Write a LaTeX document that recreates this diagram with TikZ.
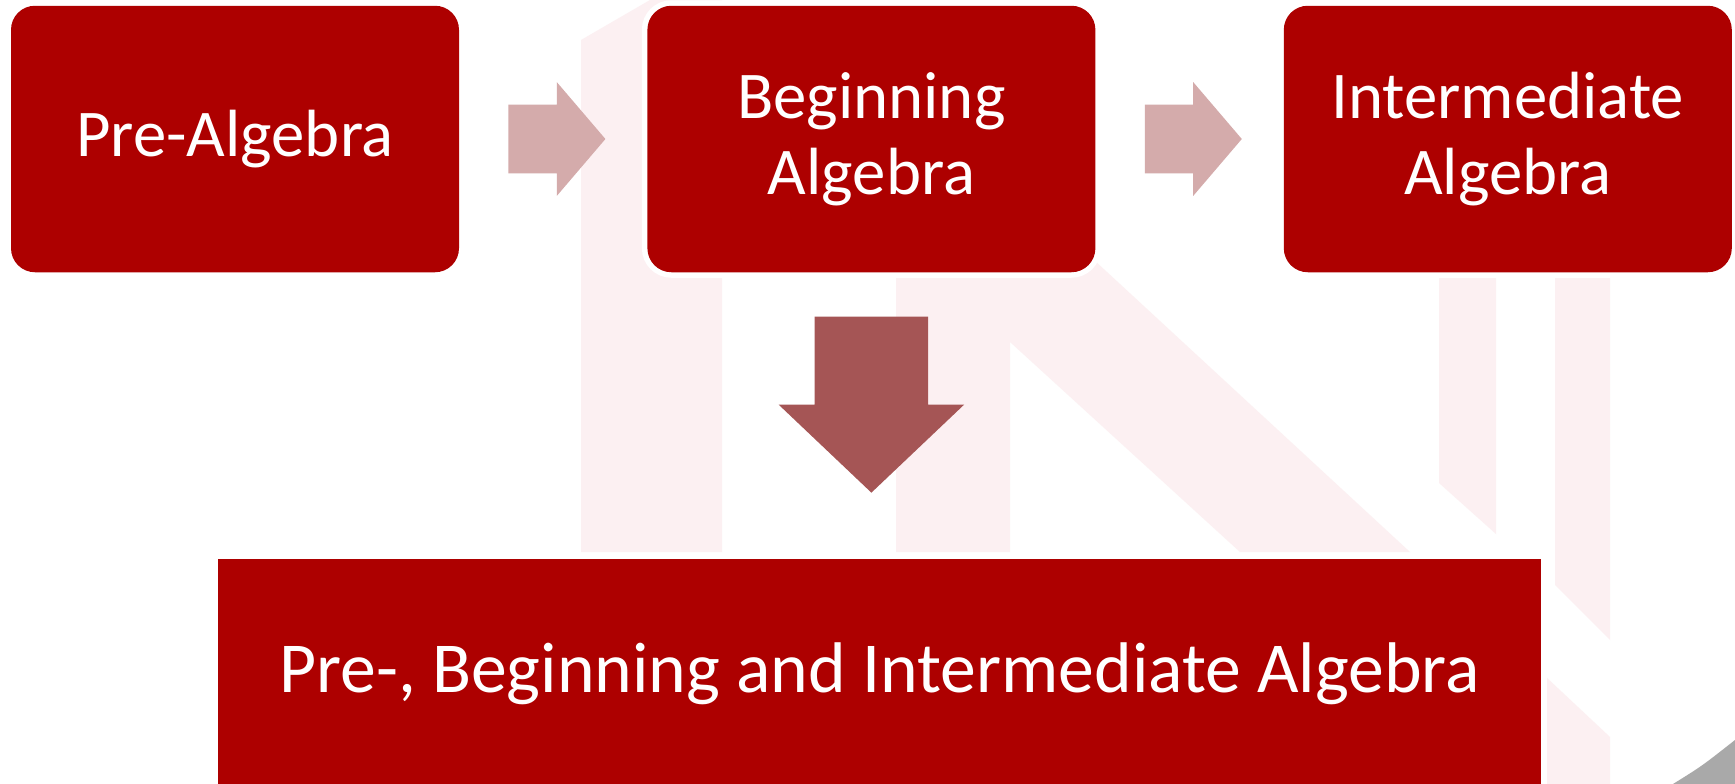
\documentclass[tikz,border=0pt]{standalone}
\usepackage{fontspec}
\setmainfont{Carlito}
\usetikzlibrary{positioning}
\usetikzlibrary{shapes.arrows}

\definecolor{boxred}{RGB}{173,0,0}
\definecolor{steppink}{RGB}{212,171,171}
\definecolor{mergered}{RGB}{165,85,85}
\definecolor{markpink}{RGB}{252,240,242}
\definecolor{curlgray}{RGB}{169,169,169}

\begin{document}
\begin{tikzpicture}
      [ x=0.1mm, y=-0.1mm
        , node distance=18.7mm
        , course/.style={rounded corners=2.4mm, fill=boxred, text=white,
            preaction={draw=white, line width=1.1mm},
            minimum width=44.8mm, minimum height=26.65mm, inner sep=0pt,
            align=center, font=\fontsize{19}{21.6}\selectfont}
        , allcourses/.style={course, rounded corners=0pt,
            minimum width=132.3mm, minimum height=23mm,
            font=\fontsize{20.4}{24}\selectfont}
        , nextarrow/.style={single arrow, fill=steppink, inner sep=0pt,
            minimum height=9.7mm,
            single arrow head extend=2.25mm, single arrow tip angle=99}
        , downarrow/.style={single arrow, fill=mergered, inner sep=0pt,
            rotate=-90, minimum height=17.6mm,
            single arrow head extend=3.6mm, single arrow tip angle=93}
      ]
      \useasboundingbox (0,0) rectangle (1735,784);
      \clip (0,0) rectangle (1735,784);
      \fill[white] (0,0) rectangle (1735,784);

      % faint logo behind the boxes
      \fill[markpink] (581,552) -- (581,40) -- (650,0) -- (722,0) -- (722,552) -- cycle;
      \fill[markpink] (896,552) -- (896,150) -- (975,150) -- (1410,552)
          -- (1240,552) -- (1010,342) -- (1010,552) -- cycle;
      \fill[markpink] (1439,250) -- (1496,250) -- (1496,534) -- (1439,483) -- cycle;
      \fill[markpink] (1555,250) -- (1610,250) -- (1610,640) -- (1555,585) -- cycle;
      \fill[markpink] (1546,677) -- (1610,737) -- (1610,784) -- (1546,784) -- cycle;

      \node (pre) [course] at (235,139) {Pre-Algebra};
      \node (begin) [course, right=of pre] {Beginning\\Algebra};
      \node (inter) [course, right=of begin] {Intermediate\\Algebra};

      \node (a1) [nextarrow, right=4.8mm of pre, anchor=tail] {\rule{0pt}{6.75mm}};
      \node (a2) [nextarrow, right=4.8mm of begin, anchor=tail] {\rule{0pt}{6.75mm}};
      \node (down) [downarrow, below=4.3mm of begin, anchor=tail] {\rule{0pt}{11.2mm}};

      \node (all) [allcourses, anchor=north] at (879.5,558)
          {Pre-, Beginning and Intermediate Algebra};

      \fill[curlgray] (1673,784) .. controls (1702,766) .. (1735,740) -- (1735,784) -- cycle;

    \end{tikzpicture}
\end{document}
